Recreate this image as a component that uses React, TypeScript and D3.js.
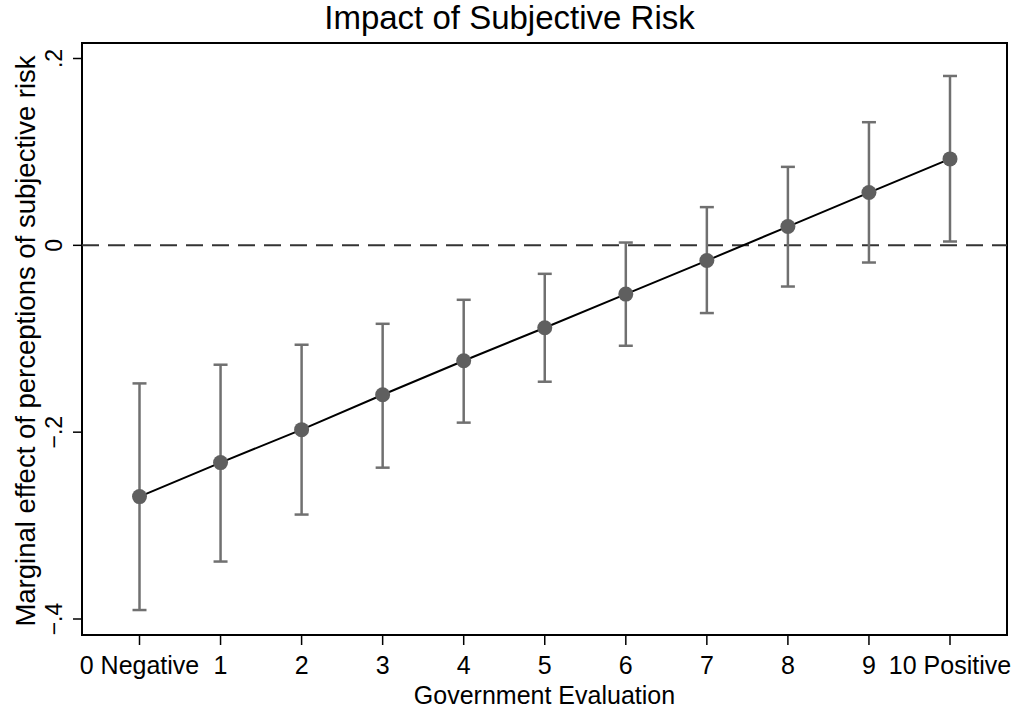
import React, { useEffect, useRef } from "react";
import * as d3 from "d3";

const evaluations = [0, 1, 2, 3, 4, 5, 6, 7, 8, 9, 10];
const tickLabels = ["0 Negative", "1", "2", "3", "4", "5", "6", "7", "8", "9", "10 Positive"];
const effects = [-0.269, -0.2326, -0.1973, -0.1599, -0.1235, -0.0882, -0.0522, -0.0163, 0.0201, 0.0565, 0.0925];
const upper = [-0.1478, -0.1278, -0.1064, -0.084, -0.0583, -0.0305, 0.003, 0.0409, 0.084, 0.1318, 0.1813];
const lower = [-0.3904, -0.3385, -0.2882, -0.238, -0.1898, -0.146, -0.1075, -0.0725, -0.0441, -0.0184, 0.0041];
const yTicks = [-0.4, -0.2, 0, 0.2];

const W = 1019;
const H = 710;
const font = "'Liberation Sans', Arial, sans-serif";

const App = () => {
  const svgRef = useRef<SVGSVGElement>(null);

  useEffect(() => {
    const frame = { left: 82, right: 1007, top: 43, bottom: 635 };

    const x = d3.scaleLinear().domain([0, 10]).range([139.5, 950]);
    const y = d3.scaleLinear().domain([-0.4, 0.2]).range([619, 58.5]);

    const svg = d3.select(svgRef.current);
    svg.selectAll("*").remove();
    svg.attr("width", W).attr("height", H).style("background", "white");

    // title, centred on the whole graph
    svg
      .append("text")
      .attr("x", W / 2)
      .attr("y", 29)
      .attr("text-anchor", "middle")
      .style("font-family", font)
      .style("font-size", "33px")
      .text("Impact of Subjective Risk");

    // plot frame
    svg
      .append("rect")
      .attr("x", frame.left)
      .attr("y", frame.top)
      .attr("width", frame.right - frame.left)
      .attr("height", frame.bottom - frame.top)
      .attr("fill", "none")
      .attr("stroke", "black")
      .attr("stroke-width", 2);

    // y axis ticks, labels rotated like stata
    const yAxis = svg.append("g");
    yTicks.forEach((t) => {
      yAxis
        .append("line")
        .attr("x1", frame.left - 9)
        .attr("x2", frame.left)
        .attr("y1", y(t))
        .attr("y2", y(t))
        .attr("stroke", "black")
        .attr("stroke-width", 1.5);
      const lab = t === 0 ? "0" : d3.format(".1f")(t).replace("0.", ".");
      yAxis
        .append("text")
        .attr("transform", `translate(${frame.left - 20},${y(t)}) rotate(-90)`)
        .attr("text-anchor", "middle")
        .style("font-family", font)
        .style("font-size", "23px")
        .text(lab);
    });

    svg
      .append("text")
      .attr("transform", `translate(35,${(frame.top + frame.bottom) / 2 + 2}) rotate(-90)`)
      .attr("text-anchor", "middle")
      .style("font-family", font)
      .style("font-size", "27.5px")
      .text("Marginal effect of perceptions of subjective risk");

    // x axis ticks
    const xAxis = svg.append("g");
    evaluations.forEach((e, i) => {
      xAxis
        .append("line")
        .attr("x1", x(e))
        .attr("x2", x(e))
        .attr("y1", frame.bottom)
        .attr("y2", frame.bottom + 10)
        .attr("stroke", "black")
        .attr("stroke-width", 1.5);
      xAxis
        .append("text")
        .attr("x", x(e))
        .attr("y", 674)
        .attr("text-anchor", "middle")
        .style("font-family", font)
        .style("font-size", "25px")
        .text(tickLabels[i]);
    });

    svg
      .append("text")
      .attr("x", (frame.left + frame.right) / 2)
      .attr("y", 704)
      .attr("text-anchor", "middle")
      .style("font-family", font)
      .style("font-size", "25px")
      .text("Government Evaluation");

    // reference line at zero
    svg
      .append("line")
      .attr("x1", frame.left)
      .attr("x2", frame.right)
      .attr("y1", y(0))
      .attr("y2", y(0))
      .attr("stroke", "#333")
      .attr("stroke-width", 2)
      .attr("stroke-dasharray", "17,9");

    // error bars
    const bars = svg.append("g").attr("stroke", "#707070").attr("stroke-width", 2.5);
    evaluations.forEach((e, i) => {
      bars.append("line").attr("x1", x(e)).attr("x2", x(e)).attr("y1", y(upper[i])).attr("y2", y(lower[i]));
      [upper[i], lower[i]].forEach((v) => {
        bars
          .append("line")
          .attr("x1", x(e) - 7)
          .attr("x2", x(e) + 7)
          .attr("y1", y(v))
          .attr("y2", y(v));
      });
    });

    // connecting line
    const line = d3
      .line<number>()
      .x((d) => x(d))
      .y((d, i) => y(effects[i]));
    svg
      .append("path")
      .attr("fill", "none")
      .attr("stroke", "black")
      .attr("stroke-width", 2)
      .attr("d", line(evaluations));

    svg
      .append("g")
      .selectAll("circle")
      .data(evaluations)
      .join("circle")
      .attr("cx", (d) => x(d))
      .attr("cy", (d, i) => y(effects[i]))
      .attr("r", 7.5)
      .attr("fill", "#5f5f5f");
  }, []);

  return <svg ref={svgRef} style={{ position: "absolute", left: 0, top: 0 }} />;
};

export default App;
